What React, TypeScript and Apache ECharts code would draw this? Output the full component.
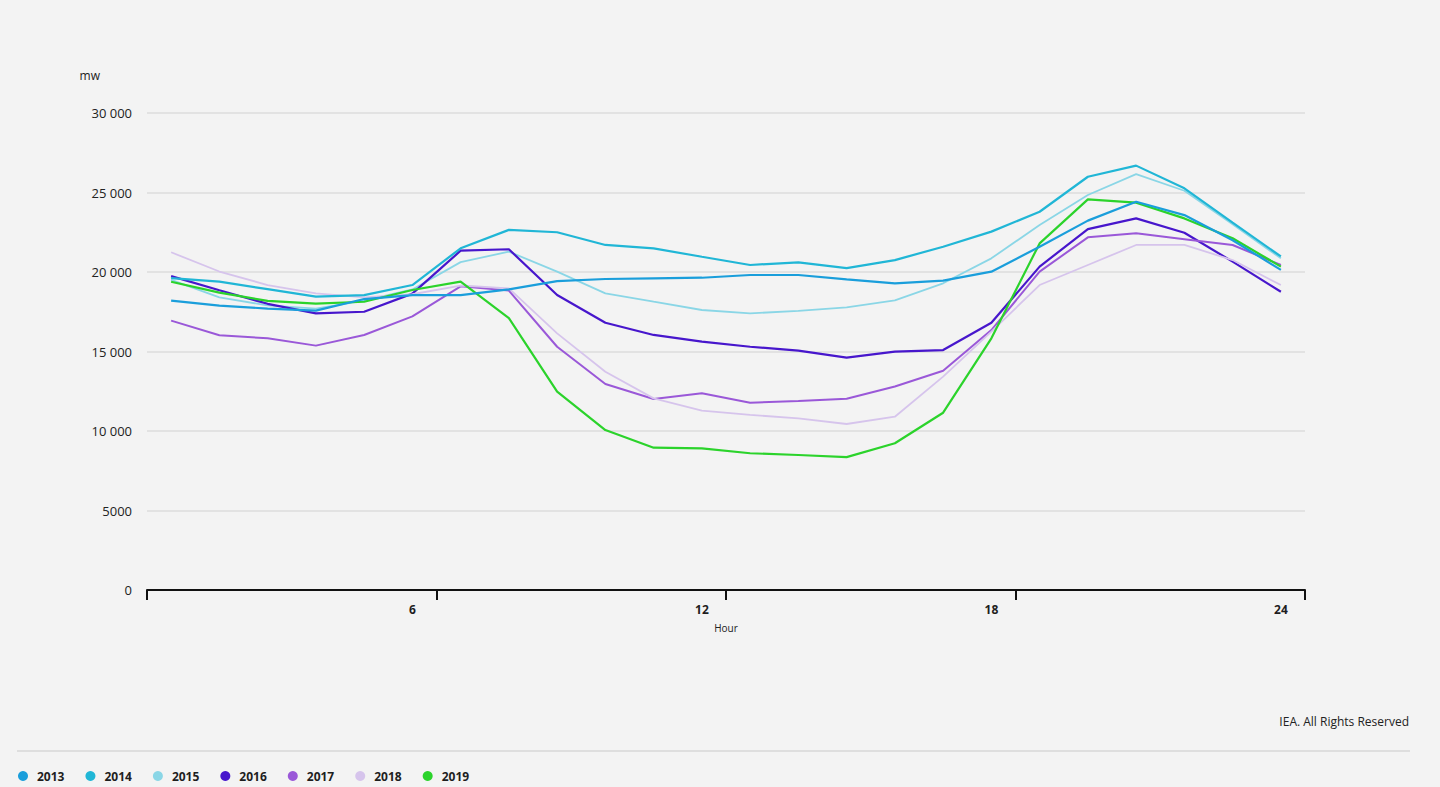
import React, { useEffect, useRef } from "react";
import * as echarts from "echarts";

const hours = ["1","2","3","4","5","6","7","8","9","10","11","12","13","14","15","16","17","18","19","20","21","22","23","24"];

const y2013 = [18200, 17880, 17700, 17570, 18300, 18550, 18550, 18910, 19430, 19560, 19600, 19640, 19810, 19810, 19540, 19290, 19460, 20020, 21590, 23230, 24420, 23580, 22000, 20130];
const y2014 = [19620, 19400, 18920, 18450, 18550, 19180, 21490, 22650, 22500, 21700, 21490, 20960, 20440, 20610, 20240, 20750, 21590, 22540, 23790, 25990, 26690, 25260, 23100, 20980];
const y2015 = [19500, 18400, 17900, 17700, 18200, 18900, 20620, 21280, 20020, 18660, 18130, 17610, 17400, 17550, 17780, 18220, 19290, 20860, 22960, 24840, 26160, 25110, 23000, 20860];
const y2016 = [19740, 18850, 18000, 17400, 17500, 18640, 21340, 21430, 18550, 16810, 16040, 15620, 15300, 15050, 14620, 14990, 15090, 16810, 20340, 22700, 23370, 22470, 20650, 18760];
const y2017 = [16940, 16020, 15830, 15370, 16040, 17210, 19100, 18830, 15300, 12960, 12010, 12370, 11780, 11890, 12030, 12800, 13790, 16350, 20020, 22180, 22430, 22060, 21700, 20440];
const y2018 = [21240, 20030, 19180, 18660, 18400, 18600, 19150, 18970, 16140, 13730, 12050, 11280, 11010, 10800, 10440, 10900, 13420, 16250, 19180, 20440, 21700, 21700, 20750, 19180];
const y2019 = [19390, 18700, 18180, 18010, 18130, 18870, 19390, 17100, 12470, 10060, 8950, 8910, 8600, 8490, 8360, 9230, 11150, 15830, 21800, 24570, 24360, 23370, 22120, 20340];

const seriesNames = ["2013", "2014", "2015", "2016", "2017", "2018", "2019"];
const seriesData = [y2013, y2014, y2015, y2016, y2017, y2018, y2019];
const seriesColors = ["#1a9edb", "#20b6d6", "#8ad6e6", "#4716cc", "#9a58d8", "#d6c4ec", "#2bd32b"];
const seriesWidths = [2.2, 2.2, 1.8, 2.2, 2, 1.8, 2.2];

const yTicks = [0, 5000, 10000, 15000, 20000, 25000, 30000];

function fmt(v: number): string {
  if (v >= 10000) {
    const s = String(v);
    return s.slice(0, s.length - 3) + " " + s.slice(s.length - 3);
  }
  return String(v);
}

export default function App() {
  const ref = useRef<HTMLDivElement>(null);
  useEffect(() => {
    document.body.style.margin = "0";
    document.body.style.background = "#f3f3f3";
    const chart = echarts.init(ref.current!, null, { renderer: "svg" });
    const font = "'Open Sans', 'Noto Sans', sans-serif";
    chart.setOption({
      animation: false,
      backgroundColor: "#f3f3f3",
      textStyle: { fontFamily: font },
      grid: { left: 147, right: 135, top: 113, bottom: 197, containLabel: false },
      legend: {
        data: seriesNames,
        left: 13,
        top: 768,
        padding: [2, 5, 2, 5],
        icon: "circle",
        itemWidth: 10,
        itemHeight: 10,
        itemGap: 21,
        textStyle: { fontSize: 12, fontWeight: "bold", color: "#1e1e1e", fontFamily: font, padding: [0, 0, 0, 4] },
      },
      xAxis: {
        type: "category",
        data: hours,
        boundaryGap: true,
        name: "Hour",
        nameLocation: "middle",
        nameGap: 33,
        nameTextStyle: { fontSize: 10, color: "#222", fontFamily: font },
        axisLine: { show: true, lineStyle: { color: "#111", width: 2 } },
        axisTick: {
          show: true,
          length: 10,
          interval: (i: number) => i % 6 === 0,
          lineStyle: { color: "#111", width: 2 },
        },
        axisLabel: {
          interval: (i: number) => (i + 1) % 6 === 0,
          fontSize: 12,
          fontWeight: "bold",
          color: "#1e1e1e",
          margin: 13,
        },
        splitLine: { show: false },
      },
      yAxis: {
        type: "value",
        min: yTicks[0],
        max: yTicks[yTicks.length - 1],
        interval: 5000,
        name: "mw",
        nameLocation: "end",
        nameGap: 32,
        nameTextStyle: { fontSize: 12, color: "#222", align: "right", padding: [0, 47, 0, 0] },
        axisLine: { show: false },
        axisTick: { show: false },
        axisLabel: { formatter: (v: number) => fmt(v), fontSize: 13, color: "#222", margin: 15 },
        splitLine: { lineStyle: { color: "#dcdcdc", width: 1.5 } },
      },
      series: seriesNames.map((n, i) => ({
        name: n,
        type: "line",
        data: seriesData[i],
        symbol: "none",
        color: seriesColors[i],
        lineStyle: { width: seriesWidths[i], color: seriesColors[i] },
        z: i === 0 || i === 1 ? 3 : 2,
      })),
      graphic: [
        { type: "line", shape: { x1: 17, y1: 751, x2: 1410, y2: 751 }, style: { stroke: "#dedede", lineWidth: 2 } },
        { type: "text", right: 31, top: 715, style: { text: "IEA. All Rights Reserved", fontSize: 12, fill: "#222", fontFamily: font } },
      ],
    });
    return () => chart.dispose();
  }, []);
  return <div ref={ref} style={{ width: 1440, height: 787 }} />;
}
